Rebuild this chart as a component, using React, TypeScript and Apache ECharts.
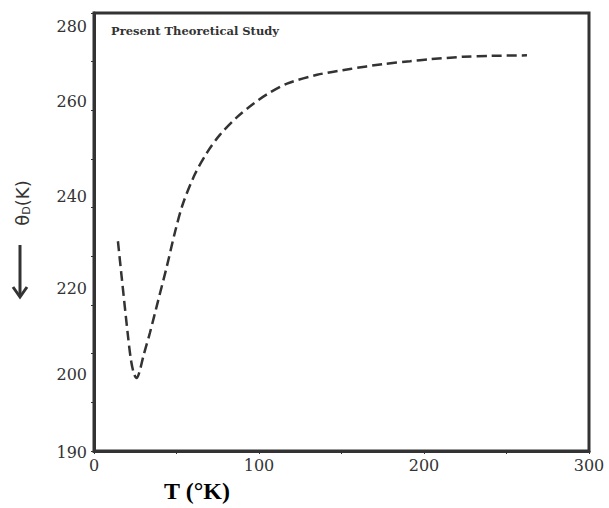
import React, { useEffect, useRef } from "react";
import * as echarts from "echarts";

// Temperature T (°K)
const temperature = [14.5, 16.7, 20.5, 22.5, 24.3, 25.8, 27.5, 30.0, 33.9, 38.8, 44.2, 49.1, 53.9, 61.2, 68.5, 76.4, 86.7, 96.4, 104.8, 117, 135.2, 155.2, 175.2, 191.5, 203.6, 223.6, 241.2, 262.4];
// Debye temperature θD (K)
const thetaD = [233.1, 226.0, 213.9, 208.5, 205.8, 205.0, 206.2, 209.6, 214.3, 220.8, 228.0, 235.0, 240.8, 246.9, 251.3, 255.0, 258.6, 261.3, 263.3, 265.5, 267.3, 268.5, 269.5, 270.1, 270.5, 271.0, 271.2, 271.3];

const xTickLabels = [0, 100, 200, 300];
const yTickLabels = [190, 200, 220, 240, 260, 280];

// visual vertical placement of the y labels as drawn in the source figure (rich padding)
const yLabelPad: Record<number, number[]> = {
  280: [26, 0, 0, 0],
  260: [0, 0, 18, 0],
  240: [0, 0, 22, 0],
  220: [0, 0, 34, 0],
  200: [0, 0, 56, 0],
  190: [2, 0, 0, 0],
};

export default function App() {
  const ref = useRef<HTMLDivElement>(null);
  useEffect(() => {
    document.body.style.margin = "0";
    document.body.style.overflow = "hidden";
    if (!ref.current) return;
    const chart = echarts.init(ref.current, null, { renderer: "svg" });
    const axisColor = "#333";
    const rich: Record<string, any> = {};
    yTickLabels.forEach((v) => {
      rich["y" + v] = {
        fontFamily: "DejaVu Serif",
        fontSize: 16,
        color: "#333",
        padding: yLabelPad[v],
      };
    });
    chart.setOption({
      animation: false,
      backgroundColor: "#fff",
      grid: {
        left: 94,
        right: 20,
        top: 13,
        bottom: 50,
        show: true,
        borderColor: axisColor,
        borderWidth: 3,
      },
      graphic: [
        {
          type: "text",
          left: 111,
          top: 25,
          style: {
            text: "Present Theoretical Study",
            font: "bold 11.5px 'DejaVu Serif'",
            fill: "#333",
          },
        },
        {
          type: "text",
          x: 22,
          y: 203,
          rotation: Math.PI / 2,
          style: {
            text: "θ{sub|D}(K)",
            fontFamily: "DejaVu Sans",
            fontSize: 18,
            fill: "#333",
            align: "center",
            verticalAlign: "middle",
            rich: {
              sub: { fontFamily: "DejaVu Sans", fontSize: 11, fill: "#333", padding: [8, 0, 0, 0] },
            },
          },
        },
        {
          type: "line",
          shape: { x1: 20, y1: 245, x2: 20, y2: 296 },
          style: { stroke: "#333", lineWidth: 3 },
        },
        {
          type: "polyline",
          shape: { points: [[13, 287], [20, 297], [27, 287]] },
          style: { stroke: "#333", lineWidth: 3, fill: null },
        },
      ],
      xAxis: {
        type: "value",
        min: 0,
        max: 300,
        interval: 50,
        name: "T (°K)",
        nameLocation: "middle",
        nameGap: 28,
        nameTextStyle: {
          fontFamily: "Liberation Serif",
          fontWeight: "bold",
          fontSize: 24,
          color: "#000",
          padding: [0, 289, 0, 0],
        },
        axisLine: { show: true, lineStyle: { color: axisColor, width: 3 } },
        axisTick: { show: true, length: 3, lineStyle: { color: axisColor, width: 1 } },
        splitLine: { show: false },
        axisLabel: {
          margin: 6,
          fontFamily: "DejaVu Serif",
          fontSize: 16,
          color: "#333",
          formatter: (v: number) => (xTickLabels.includes(v) ? String(v) : ""),
        },
      },
      yAxis: {
        type: "value",
        min: 190,
        max: 280,
        interval: 10,
        axisLine: { show: true, lineStyle: { color: axisColor, width: 3 } },
        axisTick: { show: true, length: 3, lineStyle: { color: axisColor, width: 1 } },
        splitLine: { show: false },
        axisLabel: {
          margin: 7,
          rich,
          formatter: (v: number) => (yTickLabels.includes(v) ? `{y${v}|${v}}` : ""),
        },
      },
      series: [
        {
          type: "line",
          data: temperature.map((t, i) => [t, thetaD[i]]),
          smooth: 0.3,
          symbol: "none",
          lineStyle: { color: "#333", width: 2.5, type: [10, 5] },
        },
      ],
    });
    return () => chart.dispose();
  }, []);
  return <div ref={ref} style={{ width: 609, height: 508, overflow: "hidden" }} />;
}
